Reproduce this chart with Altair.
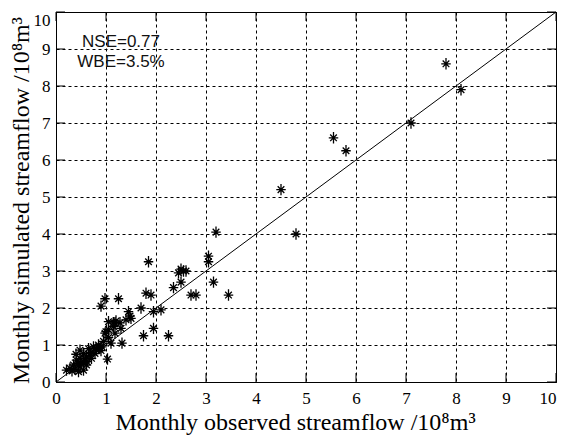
import altair as alt
import pandas as pd

# Observed (x) and simulated (y) monthly streamflow, 10^8 m^3
obs = [7.8, 8.1, 7.1, 5.55, 5.8, 4.5, 4.8,
       3.2, 3.05, 3.05, 3.15, 3.45, 2.7, 2.8,
       1.85, 2.5, 2.45, 2.6, 2.55, 2.5, 2.35,
       1.8, 1.9, 1.25, 0.98, 0.9, 1.7, 1.95, 2.1,
       1.45, 1.48, 1.5, 1.4, 1.2, 1.15, 1.95, 1.75, 2.25,
       1.05, 1.18, 1.28, 1.05, 1.0, 0.98, 1.18, 1.32, 1.1,
       0.75, 0.81, 0.88, 1.03,
       0.48, 0.55, 0.61, 0.48, 0.41, 0.55, 0.35, 0.28, 0.48, 0.61, 0.45, 0.55, 0.21, 0.71, 0.78,
       0.65, 0.7, 0.85, 0.92, 0.38, 0.5, 0.62, 0.4, 0.32, 0.68, 0.8, 0.58, 0.44, 0.9, 1.15, 1.3, 0.95, 1.05]
sim = [8.6, 7.9, 7.0, 6.6, 6.25, 5.2, 4.0,
       4.05, 3.4, 3.25, 2.7, 2.35, 2.35, 2.35,
       3.25, 3.05, 2.95, 3.0, 3.0, 2.7, 2.55,
       2.4, 2.35, 2.25, 2.25, 2.05, 2.0, 1.9, 1.95,
       1.9, 1.78, 1.72, 1.68, 1.65, 1.6, 1.45, 1.25, 1.25,
       1.63, 1.6, 1.6, 1.42, 1.36, 1.32, 1.32, 1.05, 1.05,
       0.95, 0.86, 0.92, 0.62,
       0.86, 0.77, 0.68, 0.64, 0.59, 0.55, 0.46, 0.37, 0.41, 0.46, 0.28, 0.32, 0.32, 0.64, 0.77,
       0.9, 0.8, 1.0, 0.95, 0.35, 0.5, 0.55, 0.75, 0.3, 0.72, 0.9, 0.62, 0.5, 0.85, 1.5, 1.45, 1.1, 1.2]

tick_values = list(range(0, 11))
line_ends = [0, 10]
annotations = ["NSE=0.77", "WBE=3.5%"]
ann_y = [9.2, 8.65]
ann_x = [1.3, 1.3]

pts = pd.DataFrame({"obs": obs, "sim": sim})
ticks = pd.DataFrame({"v": tick_values})
line_df = pd.DataFrame({"a": line_ends, "b": line_ends})
ann_df = pd.DataFrame({"t": annotations, "x": ann_x, "y": ann_y})

W, H = 500, 370
serif = "Liberation Serif"

xscale = alt.Scale(domain=[0, 10], nice=False)
yscale = alt.Scale(domain=[0, 10], nice=False)

xaxis = alt.Axis(values=tick_values, title="Monthly observed streamflow /10⁸m³",
                 grid=True, gridDash=[3, 3], gridColor="black", gridOpacity=1, gridWidth=1,
                 ticks=False, labelFont=serif, labelFontSize=17, labelColor="black",
                 labelPadding=8, labelOverlap=False,
                 labelAlign=alt.condition("datum.value == 10", alt.value("right"), alt.value("center")),
                 titleFont=serif, titleFontSize=24, titleFontWeight="normal",
                 titleColor="black", titleX=239, titleY=47, titleBaseline="alphabetic",
                 domainColor="black", labelFlush=False)
yaxis = alt.Axis(values=tick_values, title="Monthly simulated streamflow /10⁸m³",
                 grid=True, gridDash=[3, 3], gridColor="black", gridOpacity=1, gridWidth=1,
                 ticks=False, labelFont=serif, labelFontSize=17, labelColor="black",
                 labelPadding=6, labelOverlap=False,
                 labelBaseline=alt.condition("datum.value == 10", alt.value("top"), alt.value("middle")),
                 titleFont=serif, titleFontSize=24, titleFontWeight="normal",
                 titleColor="black", titleX=-28, titleY=188, titleAngle=270, titleAlign="center",
                 titleBaseline="alphabetic", domainColor="black", labelFlush=False)

star = "M-1,0L1,0M0,-1.2L0,1.2M-0.7,-0.7L0.7,0.7M-0.7,0.7L0.7,-0.7"

points = alt.Chart(pts).mark_point(shape=star, filled=False, color="black",
                                   strokeWidth=1.3, size=90, opacity=1).encode(
    x=alt.X("obs:Q", scale=xscale, axis=xaxis),
    y=alt.Y("sim:Q", scale=yscale, axis=yaxis),
)

oneone = alt.Chart(line_df).mark_line(color="black", strokeWidth=1).encode(
    x=alt.X("a:Q", scale=xscale, axis=xaxis),
    y=alt.Y("b:Q", scale=yscale, axis=yaxis),
)

text = alt.Chart(ann_df).mark_text(font="Liberation Sans", fontSize=17, color="#111",
                                   align="center", baseline="middle").encode(
    x=alt.X("x:Q", scale=xscale, axis=xaxis),
    y=alt.Y("y:Q", scale=yscale, axis=yaxis),
    text="t:N",
)

tb = alt.Chart(ticks).mark_rule(color="black").encode(
    x=alt.X("v:Q", scale=xscale, axis=xaxis), y=alt.value(H), y2=alt.value(H - 9))
tt = alt.Chart(ticks).mark_rule(color="black").encode(
    x=alt.X("v:Q", scale=xscale, axis=xaxis), y=alt.value(0), y2=alt.value(9))
tl = alt.Chart(ticks).mark_rule(color="black").encode(
    y=alt.Y("v:Q", scale=yscale, axis=yaxis), x=alt.value(0), x2=alt.value(9))
tr = alt.Chart(ticks).mark_rule(color="black").encode(
    y=alt.Y("v:Q", scale=yscale, axis=yaxis), x=alt.value(W), x2=alt.value(W - 9))

chart = alt.layer(points, tb, tt, tl, tr, oneone, text).properties(
    width=W, height=H,
    autosize=alt.AutoSizeParams(type="none"),
    padding={"left": 48, "top": 4, "right": 1, "bottom": 54},
    background="white",
).configure_view(stroke="black", strokeWidth=1)

chart.save("out.html", embed_options={"renderer": "svg", "actions": False})
